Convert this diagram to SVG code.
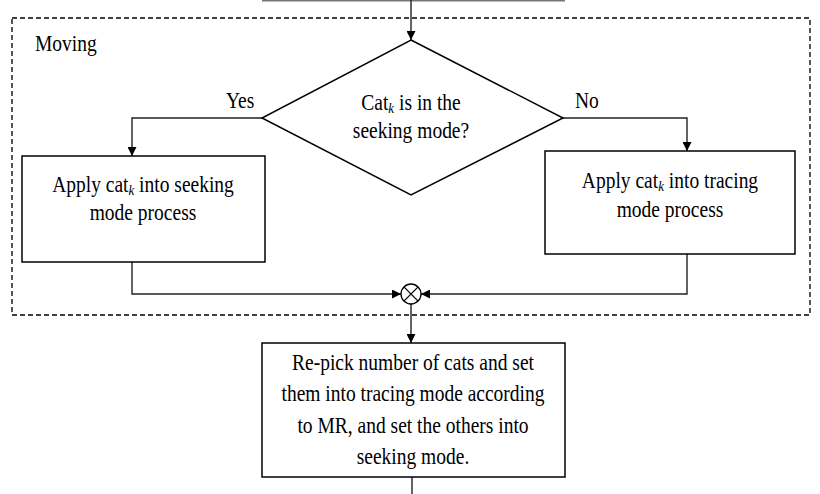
<svg xmlns="http://www.w3.org/2000/svg" width="820" height="494" viewBox="0 0 820 494">
<style>
text{font-family:"Liberation Serif","Times New Roman",serif;font-size:19.5px;fill:#000}
.c{text-anchor:middle}
.sub{font-style:italic;font-size:13px}
.box{fill:#fff;stroke:#000;stroke-width:1.5}
.ln{fill:none;stroke:#222;stroke-width:1.4}
</style>
<defs>
<marker id="ah" viewBox="0 0 10 10" refX="10" refY="5" markerWidth="9" markerHeight="9" markerUnits="userSpaceOnUse" orient="auto">
<path d="M0,0 L10,5 L0,10 Z" fill="#000"/>
</marker>
</defs>
<rect width="820" height="494" fill="#fff"/>
<g id="frame">
<rect x="12" y="18" width="798" height="297" fill="none" stroke="#000" stroke-width="1.3" stroke-dasharray="5,3"/>
<text transform="translate(35,51) scale(1,1.15)">Moving</text>
</g>
<g id="prev">
<line x1="262" y1="0.8" x2="565" y2="0.8" stroke="#777" stroke-width="1.5"/>
</g>
<g id="connectors">
<line class="ln" x1="411" y1="0" x2="411" y2="40" marker-end="url(#ah)"/>
<polyline class="ln" points="262,118 132,118 132,156" marker-end="url(#ah)"/>
<polyline class="ln" points="563,118 687,118 687,151" marker-end="url(#ah)"/>
<polyline class="ln" points="132,262 132,294 401,294" marker-end="url(#ah)"/>
<polyline class="ln" points="687,254 687,294 421,294" marker-end="url(#ah)"/>
<line class="ln" x1="411" y1="304" x2="411" y2="343" marker-end="url(#ah)"/>
<line class="ln" x1="412" y1="477" x2="412" y2="494"/>
</g>
<g id="decision">
<polygon class="box" points="411,40 563,118 411,195 262,118"/>
<text class="c" transform="translate(411,110) scale(1,1.15)">Cat<tspan class="sub" dy="3">k</tspan><tspan dy="-3"> is in the</tspan></text>
<text class="c" transform="translate(411,138) scale(1,1.15)">seeking mode?</text>
</g>
<g id="labels">
<text transform="translate(226,108) scale(1,1.15)">Yes</text>
<text transform="translate(575,108) scale(1,1.15)">No</text>
</g>
<g id="seek">
<rect class="box" x="22" y="156" width="243" height="106"/>
<text class="c" transform="translate(143,192) scale(1,1.15)">Apply cat<tspan class="sub" dy="3">k</tspan><tspan dy="-3"> into seeking</tspan></text>
<text class="c" transform="translate(143,220) scale(1,1.15)">mode process</text>
</g>
<g id="trace">
<rect class="box" x="545" y="151" width="250" height="103"/>
<text class="c" transform="translate(670,188) scale(1,1.15)">Apply cat<tspan class="sub" dy="3">k</tspan><tspan dy="-3"> into tracing</tspan></text>
<text class="c" transform="translate(670,217) scale(1,1.15)">mode process</text>
</g>
<g id="join">
<circle cx="411" cy="294" r="10" fill="#fff" stroke="#000" stroke-width="1.3"/>
<path d="M403.9,286.9 L418.1,301.1 M418.1,286.9 L403.9,301.1" stroke="#000" stroke-width="1.3"/>
</g>
<g id="repick">
<rect class="box" x="262" y="343" width="303" height="134"/>
<text class="c" transform="translate(413,370) scale(1,1.15)">Re-pick number of cats and set</text>
<text class="c" transform="translate(413,401) scale(1,1.15)">them into tracing mode according</text>
<text class="c" transform="translate(413,433) scale(1,1.15)">to MR, and set the others into</text>
<text class="c" transform="translate(413,464) scale(1,1.15)">seeking mode.</text>
</g>
</svg>
